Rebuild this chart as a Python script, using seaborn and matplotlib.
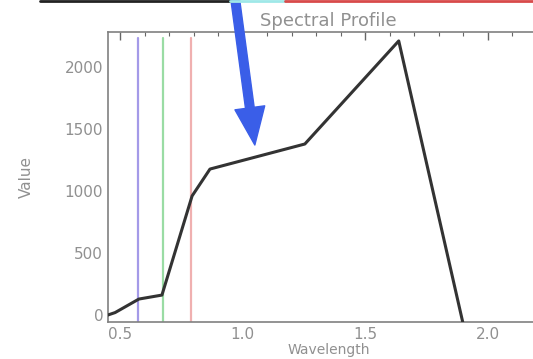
import matplotlib
matplotlib.use("Agg")
import matplotlib.pyplot as plt
from matplotlib.ticker import MultipleLocator
import pandas as pd
import seaborn as sns

# spectral profile
wavelength = [0.45, 0.48, 0.577, 0.671, 0.794, 0.867, 1.254, 1.637, 1.898]
value = [0, 20, 129, 161, 960, 1177, 1379, 2210, -56]

# band markers (blue, green, red)
band_pos = [0.573, 0.675, 0.789]
band_colors = ["#a49ae8", "#9adca4", "#f0b0b0"]
band_top = 2234

arrow_tip = (1.05, 1371)
arrow_tail = (0.969, 2560)

sns.set_style("white")
plt.rcParams["font.family"] = ["DejaVu Sans"]

df = pd.DataFrame({"Wavelength": wavelength, "Value": value})

fig = plt.figure(figsize=(5.33, 3.59), dpi=100)
ax = fig.add_axes([108 / 533, 37 / 359, 441 / 533, 290 / 359])

for pos, col in zip(band_pos, band_colors):
    ax.plot([pos, pos], [-56, band_top], color=col, lw=1.6, zorder=1)

sns.lineplot(data=df, x="Wavelength", y="Value", ax=ax, color="#333333",
             lw=2.2, sort=False, zorder=3)

ax.set_xlim(0.451, 2.25)
ax.set_ylim(-56, 2282)
ax.xaxis.set_major_locator(MultipleLocator(0.5))
ax.xaxis.set_minor_locator(MultipleLocator(0.1))
ax.yaxis.set_major_locator(MultipleLocator(500))
ax.yaxis.set_minor_locator(MultipleLocator(100))
ax.xaxis.set_major_formatter(lambda v, p: f"{v:.1f}")
ax.tick_params(which="both", direction="in", top=True, right=True,
               colors="#666666", labelcolor="#909090", labelsize=11)
ax.tick_params(which="major", length=6, width=1)
ax.tick_params(which="minor", length=3, width=0.8)
for s in ax.spines.values():
    s.set_color("#808080")
    s.set_linewidth(1.2)

ax.set_xlabel("Wavelength", color="#909090", fontsize=10, labelpad=1)
ax.set_ylabel("Value", color="#909090", fontsize=11, labelpad=22)
ax.set_title("Spectral Profile", color="#909090", fontsize=13, pad=4)

ax.annotate("", xy=arrow_tip, xytext=arrow_tail, annotation_clip=False,
            arrowprops=dict(arrowstyle="simple,head_length=1.5,head_width=1.2,tail_width=0.35",
                            color="#3a5ee8", mutation_scale=18, shrinkA=0, shrinkB=0),
            zorder=5)

# remains of a colour bar cut at the top edge
fig.add_artist(plt.Line2D([40 / 533, 230 / 533], [358 / 359, 358 / 359], color="#222222", lw=2))
fig.add_artist(plt.Line2D([230 / 533, 285 / 533], [358 / 359, 358 / 359], color="#9fe8e8", lw=2))
fig.add_artist(plt.Line2D([285 / 533, 1], [358 / 359, 358 / 359], color="#d84a4a", lw=2))

fig.savefig("out.png", dpi=100)
